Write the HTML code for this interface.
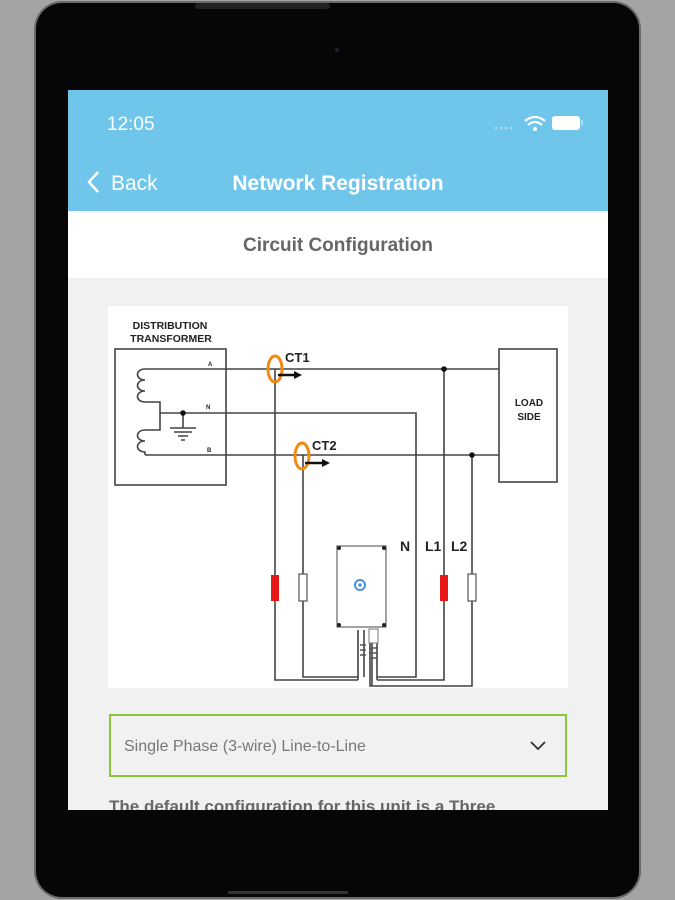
<!DOCTYPE html>
<html><head><meta charset="utf-8"><style>
html,body{margin:0;padding:0;width:675px;height:900px;overflow:hidden;background:#a4a4a4;font-family:"Liberation Sans",sans-serif}
</style></head><body>
<svg width="675" height="900" viewBox="0 0 675 900" xmlns="http://www.w3.org/2000/svg" style="position:absolute;left:0;top:0">
<rect x="0" y="0" width="675" height="900" fill="#a4a4a4"/>
<rect x="34" y="1" width="607" height="898" rx="28" fill="#6a6a6a"/>
<rect x="36" y="3" width="603" height="894" rx="26" fill="#060606"/>
<rect x="195" y="3" width="135" height="6" rx="3" fill="#222"/>
<circle cx="337" cy="50" r="2" fill="#223"/>
<!-- screen -->
<rect x="68" y="90" width="540" height="720" fill="#f1f1f1"/>
<rect x="68" y="90" width="540" height="121" fill="#6fc6ea"/>
<rect x="68" y="211" width="540" height="67" fill="#ffffff"/>
<text x="107" y="130" font-size="19" fill="#fff" font-family="Liberation Sans, sans-serif">12:05</text>
<g fill="#a9dcf3"><circle cx="496" cy="128" r="1.3"/><circle cx="501" cy="128" r="1.3"/><circle cx="506" cy="128" r="1.3"/><circle cx="511" cy="128" r="1.3"/></g>
<path d="M525 121 Q535 113 545 121" stroke="#fff" stroke-width="2.2" fill="none"/>
<path d="M528 125 Q535 119 542 125" stroke="#fff" stroke-width="2.2" fill="none"/>
<circle cx="535" cy="129" r="2" fill="#fff"/>
<rect x="552" y="116" width="28" height="14" rx="3" fill="#fff"/>
<rect x="581" y="120" width="2" height="6" fill="#a9dcf3"/>
<path d="M98 172 L89 182 L98 192" stroke="#fff" stroke-width="2.5" fill="none"/>
<text x="111" y="190" font-size="21" fill="#fff">Back</text>
<text x="338" y="190" font-size="21" fill="#fff" text-anchor="middle" font-weight="bold">Network Registration</text>
<text x="338" y="251" font-size="19" fill="#666" text-anchor="middle" font-weight="bold">Circuit Configuration</text>
<!-- diagram -->
<rect x="108" y="306" width="460" height="382" fill="#fff"/>
<g font-family="Liberation Sans, sans-serif" font-weight="bold" fill="#222">
<text x="170" y="329" font-size="10.5" text-anchor="middle">DISTRIBUTION</text>
<text x="171" y="342" font-size="10.5" text-anchor="middle">TRANSFORMER</text>
<text x="529" y="406" font-size="10" text-anchor="middle">LOAD</text>
<text x="529" y="420" font-size="10" text-anchor="middle">SIDE</text>
<text x="285" y="362" font-size="13">CT1</text>
<text x="312" y="450" font-size="13">CT2</text>
<text x="400" y="551" font-size="14">N</text>
<text x="425" y="551" font-size="14">L1</text>
<text x="451" y="551" font-size="14">L2</text>
<text x="208" y="366" font-size="6">A</text>
<text x="206" y="409" font-size="6">N</text>
<text x="207" y="452" font-size="6">B</text>
</g>
<g stroke="#444" stroke-width="1.6" fill="none">
<rect x="115" y="349" width="111" height="136"/>
<rect x="499" y="349" width="58" height="133"/>
<path d="M145 369 H499"/>
<path d="M160 413 H416 V677 H377"/>
<path d="M145 455 H499"/>
<path d="M275 369 V680 H358"/>
<path d="M303 455 V677 H358"/>
<path d="M444 369 V680 H377"/>
<path d="M472 455 V686 H370 V640"/>
<path d="M145 369 C135 369 135 380 145 380 C135 380 135 391 145 391 C135 391 135 402 145 402 H160 V430 H145 C135 430 135 441 145 441 C135 441 135 452 145 452 V455"/>
<path d="M183 413 V428 M170 428 H196 M174 432 H192 M178 436 H188 M181 440 H185"/>
<path d="M358 680 V630 M364 677 V630 M372 686 V630 M377 680 V630"/>
</g>
<circle cx="183" cy="413" r="2.8" fill="#111"/>
<circle cx="444" cy="369" r="2.8" fill="#111"/>
<circle cx="472" cy="455" r="2.8" fill="#111"/>
<ellipse cx="275" cy="369" rx="7" ry="13" stroke="#f28a12" stroke-width="3" fill="none"/>
<ellipse cx="302" cy="456" rx="7" ry="13" stroke="#f28a12" stroke-width="3" fill="none"/>
<path d="M278 375 H296" stroke="#111" stroke-width="2.5"/><path d="M294 371 L302 375 L294 379Z" fill="#111"/>
<path d="M305 463 H324" stroke="#111" stroke-width="2.5"/><path d="M322 459 L330 463 L322 467Z" fill="#111"/>
<rect x="271" y="575" width="8" height="26" fill="#e81818"/>
<rect x="440" y="575" width="8" height="26" fill="#e81818"/>
<rect x="299" y="574" width="8" height="27" fill="#fff" stroke="#555" stroke-width="1.2"/>
<rect x="468" y="574" width="8" height="27" fill="#fff" stroke="#555" stroke-width="1.2"/>
<rect x="337" y="546" width="49" height="81" fill="#fff" stroke="#666" stroke-width="1.2"/>
<g fill="#222"><circle cx="339" cy="548" r="2"/><circle cx="384" cy="548" r="2"/><circle cx="339" cy="625" r="2"/><circle cx="384" cy="625" r="2"/></g>
<circle cx="360" cy="585" r="5" fill="none" stroke="#4b8fe0" stroke-width="2"/>
<circle cx="360" cy="585" r="1.8" fill="#4b8fe0"/>
<rect x="369" y="629" width="9" height="14" fill="#fff" stroke="#777"/>
<path d="M360 645 H366 M360 650 H366 M360 655 H366 M369 648 H378 M369 653 H378 M369 658 H378" stroke="#555" stroke-width="1.5"/>
<!-- dropdown -->
<rect x="110" y="715" width="456" height="61" fill="#f1f1f1" stroke="#8cc63f" stroke-width="2"/>
<text x="124" y="751" font-size="16" fill="#777">Single Phase (3-wire) Line-to-Line</text>
<path d="M531 742 L538 749 L545 742" stroke="#333" stroke-width="1.8" fill="none"/>
<text x="109" y="812" font-size="17" fill="#666" font-weight="bold">The default configuration for this unit is a Three</text>
<rect x="36" y="810" width="603" height="60" fill="#060606"/>
<rect x="228" y="891" width="120" height="3" fill="#333"/>
</svg>
</body></html>
